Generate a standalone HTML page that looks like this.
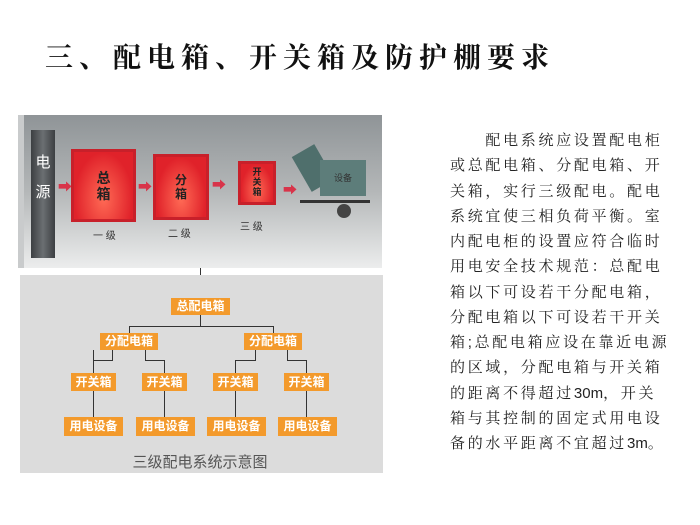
<!DOCTYPE html>
<html><head><meta charset="utf-8"><style>
body{margin:0;width:700px;height:525px;background:#fff;position:relative;overflow:hidden;font-family:"Liberation Sans","Noto Sans CJK SC",sans-serif}
.a{position:absolute}
.t{left:45px;top:36px;font-family:"Liberation Serif","Noto Serif CJK SC",serif;font-weight:bold;font-size:28px;letter-spacing:6px;white-space:nowrap;color:#111}
.p{left:450px;top:128px;font-family:"Liberation Sans","Noto Serif CJK SC",serif;font-size:15px;letter-spacing:2.7px;line-height:25.25px;color:#222;white-space:nowrap}
.p span{letter-spacing:0}
.o{position:absolute;background:#f39a2c;color:#fff;font-size:12px;text-align:center;font-weight:bold}
.box{position:absolute;background:radial-gradient(ellipse at 50% 70%,#ff6a55,#e0222a 70%);border:3px solid #c8202a;box-sizing:border-box;color:#222;font-weight:bold;text-align:center;font-size:12px;line-height:14px}
.ln{position:absolute;background:#333}
</style></head><body>
<div class="a t">三、配电箱、开关箱及防护棚要求</div>
<div class="a p">　　配电系统应设置配电柜<br>或总配电箱、分配电箱、开<br>关箱，实行三级配电。配电<br>系统宜使三相负荷平衡。室<br>内配电柜的设置应符合临时<br>用电安全技术规范：总配电<br>箱以下可设若干分配电箱，<br>分配电箱以下可设若干开关<br>箱;总配电箱应设在靠近电源<br>的区域，分配电箱与开关箱<br>的距离不得超过<span>30m</span>，开关<br>箱与其控制的固定式用电设<br>备的水平距离不宜超过<span>3m</span>。</div>

<div class="a" style="left:18px;top:115px;width:358px;height:153px;background:linear-gradient(#8f9497,#b4b7b8 50%,#eceded);border-left:6px solid #c9cbcc"></div>
<div class="a" style="left:31px;top:130px;width:24px;height:128px;background:linear-gradient(90deg,#3c3f42,#6b6f72,#3c3f42);color:#fff;font-size:15px;text-align:center;line-height:30px;padding-top:18px;box-sizing:border-box">电<br>源</div>
<div class="a" style="left:58px;top:177px;color:#d8344a;font-size:14px">➡</div>
<div class="box" style="left:71px;top:149px;width:65px;height:73px;padding-top:18px;font-size:14px;line-height:16px">总<br>箱</div>
<div class="a" style="left:138px;top:177px;color:#d8344a;font-size:14px">➡</div>
<div class="box" style="left:153px;top:154px;width:56px;height:66px;padding-top:16px">分<br>箱</div>
<div class="a" style="left:212px;top:175px;color:#d8344a;font-size:14px">➡</div>
<div class="box" style="left:238px;top:161px;width:38px;height:44px;padding-top:3px;font-size:9px;line-height:10px">开<br>关<br>箱</div>
<div class="a" style="left:283px;top:180px;color:#d8344a;font-size:14px">➡</div>
<div class="a" style="left:300px;top:148px;width:26px;height:40px;background:#4f6f6c;transform:rotate(-30deg)"></div>
<div class="a" style="left:320px;top:160px;width:46px;height:36px;background:#5d7d7a;color:#333;font-size:9px;text-align:center;line-height:36px">设备</div>
<div class="a" style="left:300px;top:200px;width:70px;height:3px;background:#333"></div>
<div class="a" style="left:337px;top:204px;width:14px;height:14px;border-radius:50%;background:#444"></div>
<div class="a" style="left:93px;top:227px;font-size:10px;color:#333">一 级</div>
<div class="a" style="left:168px;top:225px;font-size:10px;color:#333">二 级</div>
<div class="a" style="left:240px;top:218px;font-size:10px;color:#333">三 级</div>

<div class="ln" style="left:200px;top:268px;width:1px;height:26px"></div>
<div class="a" style="left:197px;top:291px;width:0;height:0;border-left:3px solid transparent;border-right:3px solid transparent;border-top:6px solid #333"></div>
<div class="a" style="left:20px;top:275px;width:363px;height:198px;background:#dcdcdc"></div>
<div class="ln" style="left:200px;top:298px;width:1px;height:28px"></div>
<div class="ln" style="left:129px;top:326px;width:145px;height:1px"></div>
<div class="ln" style="left:129px;top:326px;width:1px;height:8px"></div>
<div class="ln" style="left:273px;top:326px;width:1px;height:8px"></div>
<div class="ln" style="left:93px;top:350px;width:1px;height:67px"></div>
<div class="ln" style="left:93px;top:360px;width:20px;height:1px"></div>
<div class="ln" style="left:112px;top:350px;width:1px;height:11px"></div>
<div class="ln" style="left:145px;top:350px;width:1px;height:11px"></div>
<div class="ln" style="left:145px;top:360px;width:20px;height:1px"></div>
<div class="ln" style="left:164px;top:360px;width:1px;height:57px"></div>
<div class="ln" style="left:235px;top:360px;width:1px;height:57px"></div>
<div class="ln" style="left:235px;top:360px;width:20px;height:1px"></div>
<div class="ln" style="left:255px;top:350px;width:1px;height:11px"></div>
<div class="ln" style="left:287px;top:350px;width:1px;height:11px"></div>
<div class="ln" style="left:287px;top:360px;width:20px;height:1px"></div>
<div class="ln" style="left:306px;top:360px;width:1px;height:57px"></div>
<div class="o" style="left:171px;top:298px;width:59px;height:17px;line-height:17px">总配电箱</div>
<div class="o" style="left:100px;top:333px;width:58px;height:17px;line-height:17px">分配电箱</div>
<div class="o" style="left:244px;top:333px;width:58px;height:17px;line-height:17px">分配电箱</div>
<div class="o" style="left:71px;top:373px;width:45px;height:18px;line-height:18px">开关箱</div>
<div class="o" style="left:142px;top:373px;width:45px;height:18px;line-height:18px">开关箱</div>
<div class="o" style="left:213px;top:373px;width:45px;height:18px;line-height:18px">开关箱</div>
<div class="o" style="left:284px;top:373px;width:45px;height:18px;line-height:18px">开关箱</div>
<div class="o" style="left:64px;top:417px;width:59px;height:19px;line-height:19px">用电设备</div>
<div class="o" style="left:136px;top:417px;width:59px;height:19px;line-height:19px">用电设备</div>
<div class="o" style="left:207px;top:417px;width:59px;height:19px;line-height:19px">用电设备</div>
<div class="o" style="left:278px;top:417px;width:59px;height:19px;line-height:19px">用电设备</div>
<div class="a" style="left:130px;top:451px;width:140px;text-align:center;font-size:15px;color:#555">三级配电系统示意图</div>
</body></html>
